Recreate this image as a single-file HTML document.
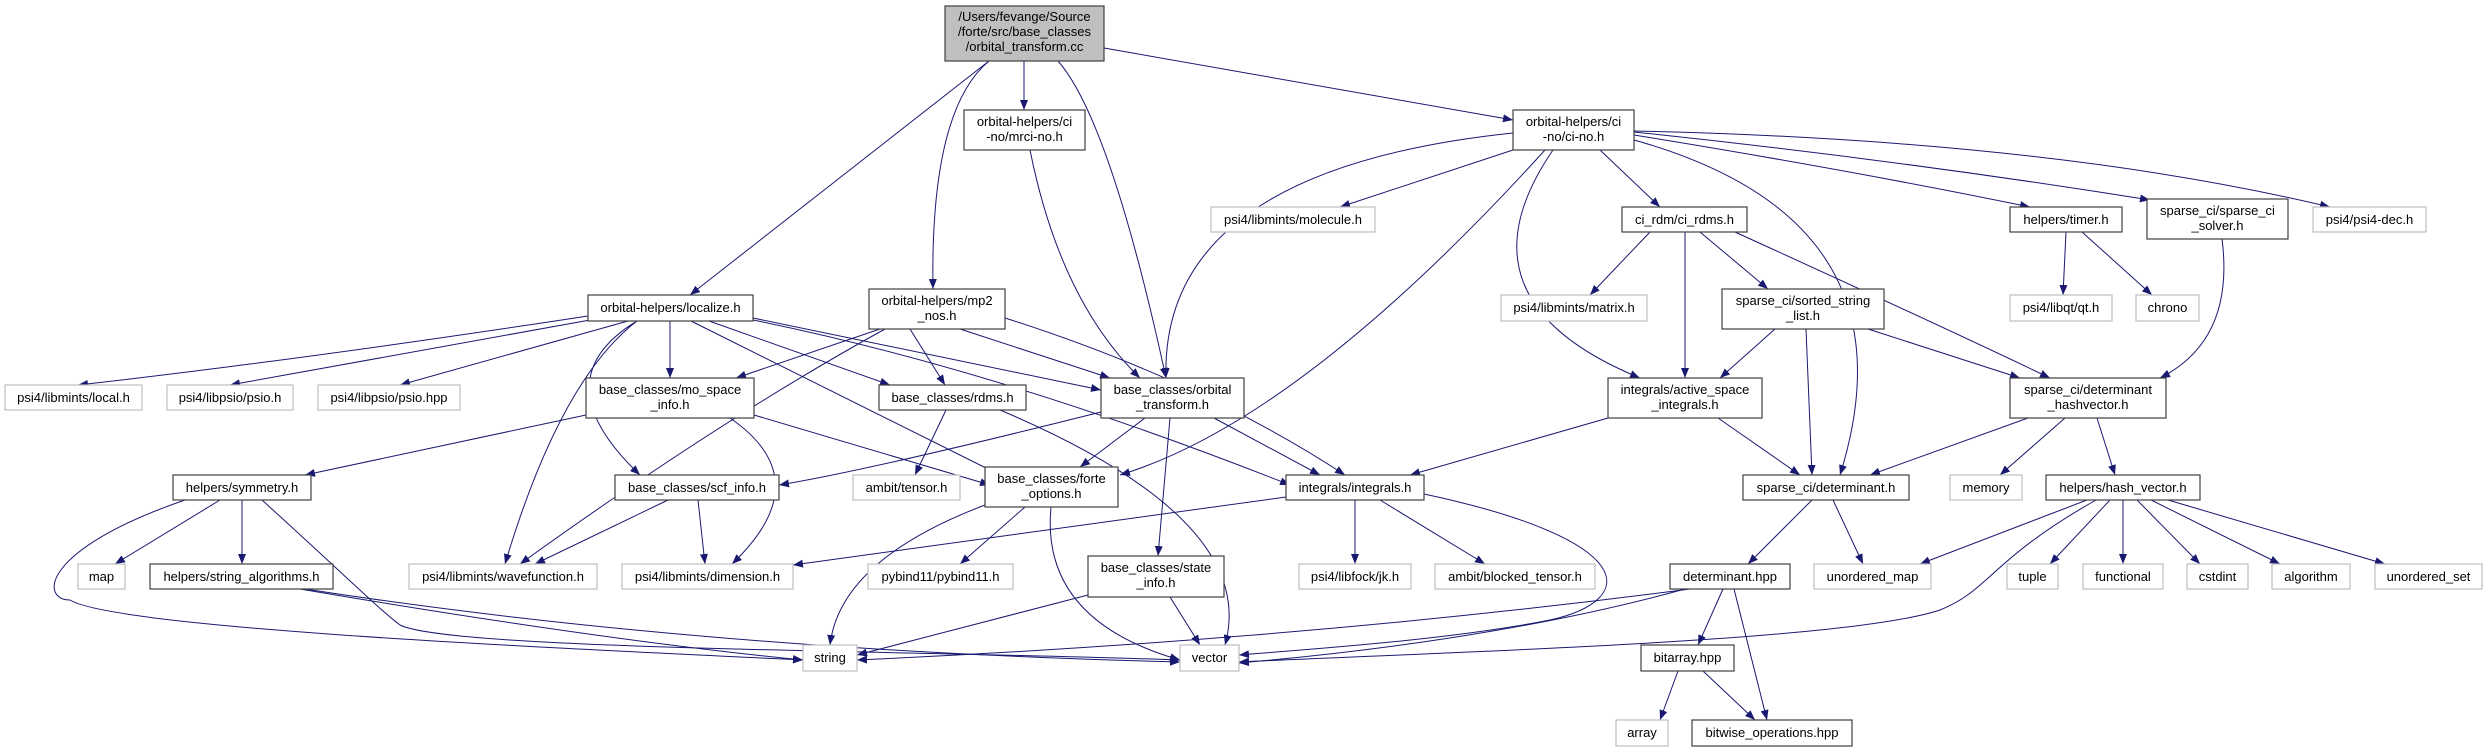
<!DOCTYPE html>
<html><head><meta charset="utf-8"><style>
html,body{margin:0;padding:0;background:#fff;}
svg{display:block;}
text{font-family:"Liberation Sans",sans-serif;font-size:13px;fill:#000;text-anchor:middle;}
.b{fill:#fff;stroke:#404040;stroke-width:1.2;}
.g{fill:#fff;stroke:#bfbfbf;stroke-width:1.2;}
.r{fill:#bfbfbf;stroke:#404040;stroke-width:1.2;}
.e path{fill:none;stroke:#191970;stroke-width:1;marker-end:url(#a);}
</style></head><body>
<svg width="2483" height="752" viewBox="0 0 2483 752" xmlns="http://www.w3.org/2000/svg">
<defs><marker id="a" markerUnits="userSpaceOnUse" markerWidth="11" markerHeight="8" refX="10" refY="4" orient="auto"><path d="M0,0 L10,4 L0,8 z" fill="#191970"/></marker></defs>
<g class="e">
<path d="M989,61 L690,295"/>
<path d="M1024,61 L1024,110"/>
<path d="M989,61 Q930,110 933,289"/>
<path d="M1058,61 Q1110,120 1166,378"/>
<path d="M1104,48 L1513,120"/>
<path d="M1030,150 Q1060,300 1140,378"/>
<path d="M1513,133 Q1160,170 1166,378"/>
<path d="M1513,150 L1340,207"/>
<path d="M1600,150 L1660,207"/>
<path d="M1634,135 Q1850,170 2030,207"/>
<path d="M1634,132 Q1900,160 2150,200"/>
<path d="M1634,131 Q2050,140 2330,207"/>
<path d="M1553,150 Q1450,300 1640,378"/>
<path d="M1634,140 Q1920,220 1840,475"/>
<path d="M1545,150 Q1300,420 1120,475"/>
<path d="M1650,232 L1590,295"/>
<path d="M1700,232 L1768,289"/>
<path d="M1685,232 L1685,378"/>
<path d="M1735,232 Q1950,330 2050,378"/>
<path d="M1775,329 L1720,378"/>
<path d="M1806,329 L1812,475"/>
<path d="M1868,329 L2020,378"/>
<path d="M2066,232 L2063,295"/>
<path d="M2082,232 L2152,295"/>
<path d="M2222,239 Q2235,340 2160,378"/>
<path d="M2028,418 L1870,475"/>
<path d="M2065,418 L2000,475"/>
<path d="M2097,418 L2115,475"/>
<path d="M588,316 Q300,360 78,385"/>
<path d="M590,320 L230,385"/>
<path d="M628,321 L400,385"/>
<path d="M670,321 L670,378"/>
<path d="M637,321 Q560,380 505,564"/>
<path d="M637,321 Q540,380 640,475"/>
<path d="M691,321 L1000,475"/>
<path d="M709,321 L890,385"/>
<path d="M753,318 L1101,390"/>
<path d="M753,320 Q1000,370 1290,485"/>
<path d="M880,329 L736,378"/>
<path d="M885,329 Q720,420 520,564"/>
<path d="M910,329 L945,385"/>
<path d="M960,329 L1110,378"/>
<path d="M1005,318 Q1200,380 1345,475"/>
<path d="M586,415 L305,475"/>
<path d="M754,415 L990,485"/>
<path d="M730,418 Q820,480 732,564"/>
<path d="M946,410 L915,475"/>
<path d="M1000,410 Q1260,520 1225,645"/>
<path d="M1101,412 Q870,470 779,485"/>
<path d="M1145,418 L1080,467"/>
<path d="M1170,418 L1158,556"/>
<path d="M1214,418 L1320,475"/>
<path d="M220,500 L115,564"/>
<path d="M242,500 L242,564"/>
<path d="M185,500 C40,550 40,600 70,600 C120,630 600,650 803,660"/>
<path d="M262,500 C350,580 380,610 400,625 C450,650 900,650 1180,660"/>
<path d="M300,589 Q600,640 803,660"/>
<path d="M305,589 Q700,650 1180,662"/>
<path d="M668,500 L535,564"/>
<path d="M698,500 L705,564"/>
<path d="M985,505 Q840,560 830,645"/>
<path d="M1025,507 L960,564"/>
<path d="M1051,507 Q1040,620 1180,660"/>
<path d="M1286,497 L793,565"/>
<path d="M1355,500 L1355,564"/>
<path d="M1380,500 L1485,564"/>
<path d="M1424,494 C1640,540 1640,600 1550,620 C1450,640 1300,650 1239,655"/>
<path d="M1608,418 L1410,475"/>
<path d="M1718,418 L1800,475"/>
<path d="M1088,595 L857,655"/>
<path d="M1170,597 L1200,645"/>
<path d="M1812,500 L1748,564"/>
<path d="M1833,500 L1863,564"/>
<path d="M2087,500 L1920,564"/>
<path d="M2096,500 C1990,560 1990,590 1940,610 C1850,640 1500,650 1239,662"/>
<path d="M2110,500 L2050,564"/>
<path d="M2123,500 L2123,564"/>
<path d="M2137,500 L2200,564"/>
<path d="M2151,500 L2280,564"/>
<path d="M2168,500 L2385,564"/>
<path d="M1690,589 Q1300,640 857,660"/>
<path d="M1685,589 Q1500,640 1239,663"/>
<path d="M1723,589 L1698,645"/>
<path d="M1734,589 L1767,720"/>
<path d="M1678,671 L1660,720"/>
<path d="M1703,671 L1755,720"/>
</g>
<g>
<rect class="r" x="945" y="6" width="159" height="55"/><text x="1024.5" y="21">/Users/fevange/Source</text><text x="1024.5" y="36">/forte/src/base_classes</text><text x="1024.5" y="51">/orbital_transform.cc</text>
<rect class="b" x="964" y="110" width="121" height="40"/><text x="1024.5" y="126">orbital-helpers/ci</text><text x="1024.5" y="141">-no/mrci-no.h</text>
<rect class="b" x="1513" y="110" width="121" height="40"/><text x="1573.5" y="126">orbital-helpers/ci</text><text x="1573.5" y="141">-no/ci-no.h</text>
<rect class="b" x="869" y="289" width="136" height="40"/><text x="937" y="305">orbital-helpers/mp2</text><text x="937" y="320">_nos.h</text>
<rect class="b" x="588" y="295" width="165" height="26"/><text x="670.5" y="312">orbital-helpers/localize.h</text>
<rect class="g" x="1211" y="207" width="164" height="25"/><text x="1293" y="224">psi4/libmints/molecule.h</text>
<rect class="b" x="1622" y="207" width="125" height="25"/><text x="1684.5" y="224">ci_rdm/ci_rdms.h</text>
<rect class="b" x="2010" y="207" width="112" height="25"/><text x="2066" y="224">helpers/timer.h</text>
<rect class="b" x="2147" y="199" width="141" height="40"/><text x="2217.5" y="215">sparse_ci/sparse_ci</text><text x="2217.5" y="230">_solver.h</text>
<rect class="g" x="2313" y="207" width="113" height="25"/><text x="2369.5" y="224">psi4/psi4-dec.h</text>
<rect class="g" x="1501" y="295" width="146" height="26"/><text x="1574" y="312">psi4/libmints/matrix.h</text>
<rect class="b" x="1722" y="289" width="162" height="40"/><text x="1803" y="305">sparse_ci/sorted_string</text><text x="1803" y="320">_list.h</text>
<rect class="g" x="2010" y="295" width="102" height="26"/><text x="2061" y="312">psi4/libqt/qt.h</text>
<rect class="g" x="2136" y="295" width="63" height="26"/><text x="2167.5" y="312">chrono</text>
<rect class="g" x="5" y="385" width="137" height="25"/><text x="73.5" y="402">psi4/libmints/local.h</text>
<rect class="g" x="167" y="385" width="126" height="25"/><text x="230" y="402">psi4/libpsio/psio.h</text>
<rect class="g" x="318" y="385" width="142" height="25"/><text x="389" y="402">psi4/libpsio/psio.hpp</text>
<rect class="b" x="586" y="378" width="168" height="40"/><text x="670" y="394">base_classes/mo_space</text><text x="670" y="409">_info.h</text>
<rect class="b" x="879" y="385" width="147" height="25"/><text x="952.5" y="402">base_classes/rdms.h</text>
<rect class="b" x="1101" y="378" width="143" height="40"/><text x="1172.5" y="394">base_classes/orbital</text><text x="1172.5" y="409">_transform.h</text>
<rect class="b" x="1608" y="378" width="154" height="40"/><text x="1685" y="394">integrals/active_space</text><text x="1685" y="409">_integrals.h</text>
<rect class="b" x="2010" y="378" width="156" height="40"/><text x="2088" y="394">sparse_ci/determinant</text><text x="2088" y="409">_hashvector.h</text>
<rect class="b" x="173" y="475" width="138" height="25"/><text x="242" y="492">helpers/symmetry.h</text>
<rect class="b" x="615" y="475" width="164" height="25"/><text x="697" y="492">base_classes/scf_info.h</text>
<rect class="g" x="853" y="475" width="107" height="25"/><text x="906.5" y="492">ambit/tensor.h</text>
<rect class="b" x="985" y="467" width="133" height="40"/><text x="1051.5" y="483">base_classes/forte</text><text x="1051.5" y="498">_options.h</text>
<rect class="b" x="1286" y="475" width="138" height="25"/><text x="1355" y="492">integrals/integrals.h</text>
<rect class="b" x="1743" y="475" width="166" height="25"/><text x="1826" y="492">sparse_ci/determinant.h</text>
<rect class="g" x="1950" y="475" width="72" height="25"/><text x="1986" y="492">memory</text>
<rect class="b" x="2046" y="475" width="154" height="25"/><text x="2123" y="492">helpers/hash_vector.h</text>
<rect class="g" x="78" y="564" width="47" height="25"/><text x="101.5" y="581">map</text>
<rect class="b" x="150" y="564" width="183" height="25"/><text x="241.5" y="581">helpers/string_algorithms.h</text>
<rect class="g" x="409" y="564" width="188" height="25"/><text x="503" y="581">psi4/libmints/wavefunction.h</text>
<rect class="g" x="622" y="564" width="171" height="25"/><text x="707.5" y="581">psi4/libmints/dimension.h</text>
<rect class="g" x="868" y="564" width="145" height="25"/><text x="940.5" y="581">pybind11/pybind11.h</text>
<rect class="b" x="1088" y="556" width="136" height="41"/><text x="1156" y="572">base_classes/state</text><text x="1156" y="587">_info.h</text>
<rect class="g" x="1299" y="564" width="112" height="25"/><text x="1355" y="581">psi4/libfock/jk.h</text>
<rect class="g" x="1435" y="564" width="160" height="25"/><text x="1515" y="581">ambit/blocked_tensor.h</text>
<rect class="b" x="1670" y="564" width="120" height="25"/><text x="1730" y="581">determinant.hpp</text>
<rect class="g" x="1814" y="564" width="117" height="25"/><text x="1872.5" y="581">unordered_map</text>
<rect class="g" x="2007" y="564" width="51" height="25"/><text x="2032.5" y="581">tuple</text>
<rect class="g" x="2083" y="564" width="80" height="25"/><text x="2123" y="581">functional</text>
<rect class="g" x="2187" y="564" width="61" height="25"/><text x="2217.5" y="581">cstdint</text>
<rect class="g" x="2272" y="564" width="78" height="25"/><text x="2311" y="581">algorithm</text>
<rect class="g" x="2375" y="564" width="107" height="25"/><text x="2428.5" y="581">unordered_set</text>
<rect class="g" x="803" y="645" width="54" height="26"/><text x="830" y="662">string</text>
<rect class="g" x="1180" y="645" width="59" height="26"/><text x="1209.5" y="662">vector</text>
<rect class="b" x="1641" y="645" width="93" height="26"/><text x="1687.5" y="662">bitarray.hpp</text>
<rect class="g" x="1616" y="720" width="52" height="26"/><text x="1642" y="737">array</text>
<rect class="b" x="1692" y="720" width="160" height="26"/><text x="1772" y="737">bitwise_operations.hpp</text>
</g>
</svg>
</body></html>
